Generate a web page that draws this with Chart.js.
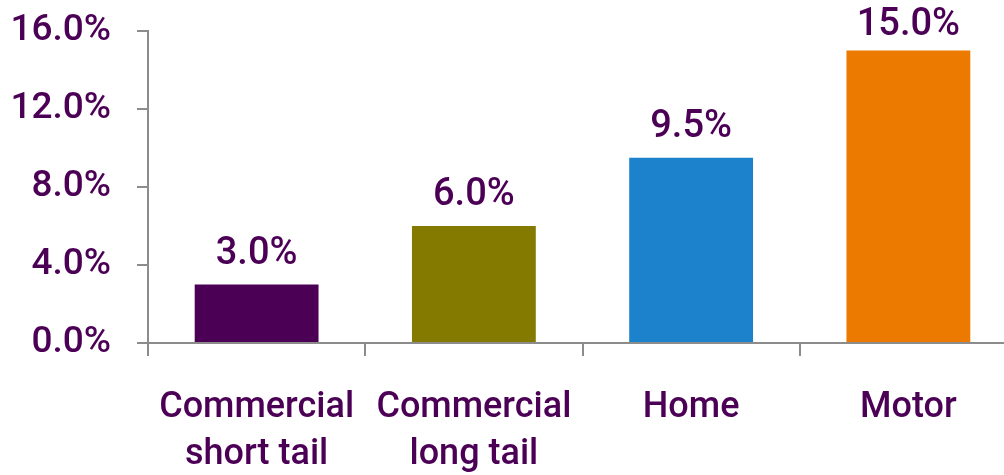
<!DOCTYPE html>
<html>
<head>
<meta charset="utf-8">
<script src="https://cdn.jsdelivr.net/npm/chart.js@4"></script>
<style>
    html, body { margin: 0; padding: 0; background: #fff; overflow: hidden; }
    #wrap { width: 1020px; height: 475px; }
</style>
</head>
<body>
<div id="wrap"><canvas id="growthChart" width="1020" height="475"></canvas></div>
<script>
const categories = [['Commercial', 'short tail'], ['Commercial', 'long tail'], 'Home', 'Motor'];
const growthValues = [3.0, 6.0, 9.5, 15.0];
const barColors = ['#4B0055', '#857A00', '#1B82CB', '#EC7A00'];
const yTicks = [0, 4, 8, 12, 16];

const textColor = '#4B0055';
const axisColor = '#8C8C8C';
const fontFamily = 'Roboto, "Noto Sans", sans-serif';

// value labels above each bar, kept inside the top edge of the canvas
const barValueLabels = {
    id: 'barValueLabels',
    afterDatasetsDraw(chart) {
        const ctx = chart.ctx;
        const meta = chart.getDatasetMeta(0);
        ctx.save();
        ctx.fillStyle = textColor;
        ctx.font = '500 38px ' + fontFamily;
        ctx.textAlign = 'center';
        ctx.textBaseline = 'alphabetic';
        meta.data.forEach((bar, i) => {
            const value = chart.data.datasets[0].data[i];
            const y = Math.max(bar.y - 21, 35);
            ctx.fillText(value.toFixed(1) + '%', bar.x, y);
        });
        ctx.restore();
    }
};

new Chart(document.getElementById('growthChart'), {
    type: 'bar',
    data: {
        labels: categories,
        datasets: [{
            data: growthValues,
            backgroundColor: barColors,
            borderWidth: 0,
            categoryPercentage: 1,
            barPercentage: 0.57
        }]
    },
    options: {
        responsive: false,
        animation: false,
        layout: {
            autoPadding: false,
            padding: { top: 31, right: 3, left: 0, bottom: 0 }
        },
        scales: {
            y: {
                min: 0,
                max: 16,
                afterBuildTicks: (axis) => {
                    axis.ticks = yTicks.map(v => ({ value: v }));
                },
                afterFit: (axis) => {
                    axis.width = 148;
                    axis.paddingTop = 0;
                    axis.paddingBottom = 0;
                },
                border: { color: axisColor, width: 2 },
                grid: {
                    drawOnChartArea: false,
                    color: axisColor,
                    tickColor: axisColor,
                    tickLength: 11,
                    lineWidth: 2
                },
                ticks: {
                    color: textColor,
                    padding: 26,
                    font: { family: fontFamily, size: 37, weight: '500' },
                    callback: (v) => v.toFixed(1) + '%'
                }
            },
            x: {
                afterFit: (axis) => {
                    axis.height = 132;
                    axis.paddingLeft = 0;
                    axis.paddingRight = 0;
                },
                border: { color: axisColor, width: 2 },
                grid: {
                    drawOnChartArea: false,
                    color: axisColor,
                    tickColor: axisColor,
                    tickLength: 13,
                    lineWidth: 2
                },
                ticks: {
                    color: textColor,
                    padding: 28,
                    maxRotation: 0,
                    font: { family: fontFamily, size: 36, weight: '500', lineHeight: 1.32 }
                }
            }
        },
        plugins: {
            legend: { display: false },
            tooltip: { enabled: false }
        }
    },
    plugins: [barValueLabels]
});
</script>
</body>
</html>
